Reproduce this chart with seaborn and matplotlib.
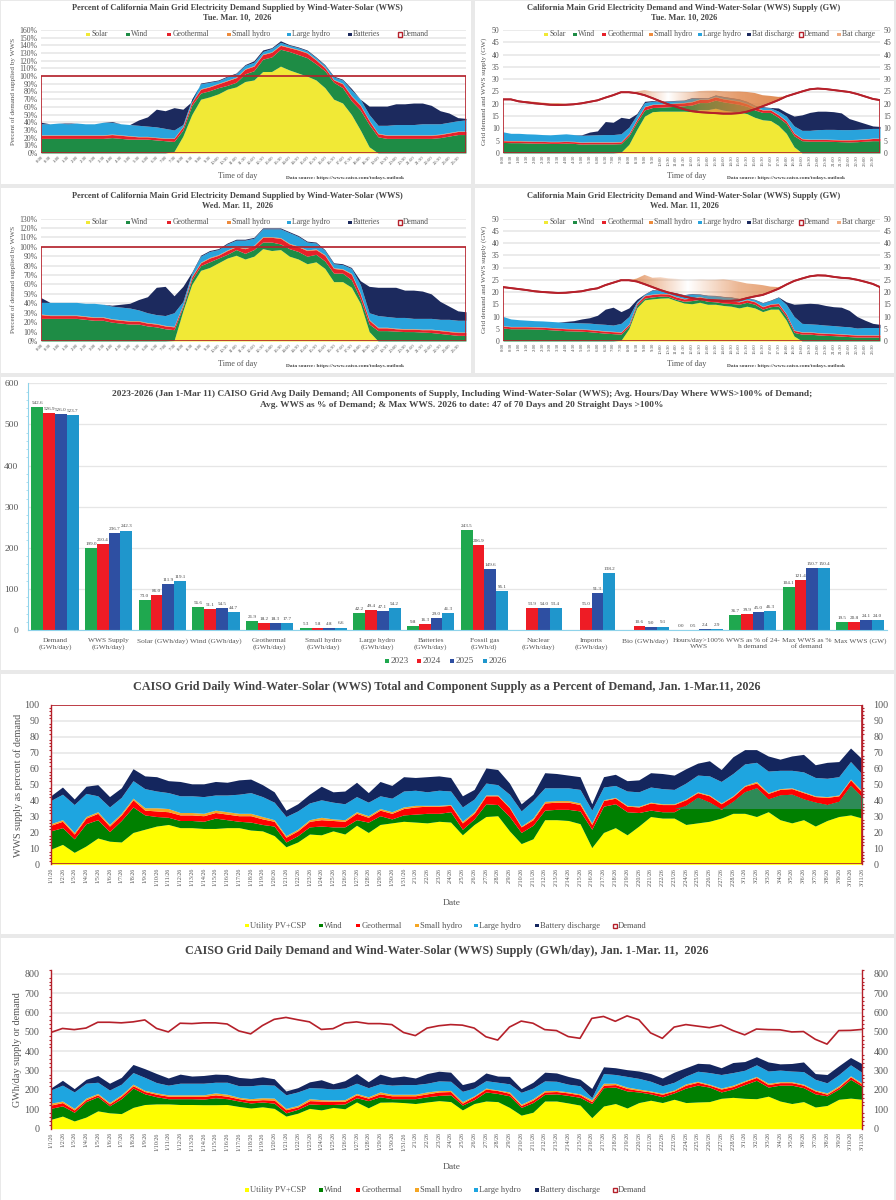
# CAISO grid charts for Mar 10-11 2026 and the 2023-2026 summary

import numpy as np
import matplotlib
matplotlib.use("Agg")
import matplotlib.pyplot as plt
from matplotlib.patches import Rectangle
from matplotlib.path import Path
from matplotlib.ticker import MultipleLocator
from matplotlib.colors import to_rgb
import pandas as pd
import seaborn as sns

sns.set_style("whitegrid")
plt.rcParams['font.family'] = ['Liberation Serif', 'DejaVu Serif']

W, H = 896, 1200

# half hour labels for the daily profile charts
time_labels = [f"{h}:{m:02d}" for h in range(24) for m in (0, 30)]

# Tue Mar 10, percent of demand (tops of the stacked layers)
a_solar = [0,0,0,0,0,0,0,0,0,0,0,0,
           0,0,0,2,22,50,70,73,77,83,86,93,
           95,106,106,113,108,104,100,95,85,70,65,50,
           30,8,0,0,0,0,0,0,0,0,0,0,0]
a_wind = [19,19,19,19,19,19,19,19,20,19,18,18,
          18,17,16,15,30,62,78,81,85,88,92,103,
          107,122,125,135,132,128,124,116,107,92,85,68,
          56,37,21,19,19,19,19,19,19,20,22,24,24]
a_geo = [23,23,23,23,23,23,23,23,24,23,22,21,
         21,20,19,19,34,66,83,86,90,94,98,109,
         113,128,131,140,137,134,130,121,111,95,90,74,
         62,42,25,23,23,23,23,23,23,24,26,28,28]
a_small = [.6,.6,.6,.6,.6,.6,.6,.6,.6,.6,.6,.6,
           .6,.6,.6,.6,.6,.7,.7,.7,.7,.7,.7,.7,
           .7,.7,.7,.7,.7,.7,.7,.7,.7,.7,.7,.7,
           .7,.7,.7,.6,.6,.6,.6,.6,.6,.6,.6,.6,.6]
a_large = [38,38,39,38,39,38,38,40,40,38,37,36,
           35,34,32,30,37,70,90,92,94,99,103,114,
           118,132,136,144,140,137,133,124,114,99,95,82,
           70,50,36,36,37,37,37,38,38,38,40,42,43]
a_total = [40,38,39,39,39,38,38,40,41,38,37,43,
           47,57,55,59,57,67,91,93,95,100,104,115,
           120,134,137,146,141,138,134,125,115,100,96,84,
           70,61,61,61,64,64,65,65,62,55,52,46,45]
a_demand = [100,100,100,100,100,100,100,100,100,100,100,100,
            100,100,100,100,100,100,100,100,100,100,100,100,
            100,100,100,100,100,100,100,100,100,100,100,100,
            100,100,100,100,100,100,100,100,100,100,100,100,100]

# Tue Mar 10, GW
b_solar = [0,0,0,0,0,0,0,0,0,0,0,0,
           0,0,0,.3,3.5,9.5,15,16.8,17,17,17,17,
           16.8,17.6,17.6,18.2,17.4,17,16.6,16,14.5,13.5,13.2,11.2,
           8,2.5,0,0,0,0,0,0,0,0,0,0,0]
b_wind = [4.3,4.2,4.2,4.1,4,4,3.9,3.9,4,3.9,3.6,3.7,
          3.7,3.7,3.7,3.8,7,12.5,17.5,18.5,18.6,18.8,19,19.2,
          19.5,20.5,20.5,21.5,20.8,20.3,19.8,19,17.5,16.5,16.5,14.5,
          12,7,5,4.8,4.8,4.8,4.7,4.6,4.5,4.6,4.8,5,5]
b_geo = [5,4.9,4.9,4.8,4.7,4.7,4.6,4.6,4.7,4.6,4.3,4.4,
         4.4,4.4,4.4,4.5,7.8,13.5,18.8,19.7,19.8,20,20.2,20.4,
         20.8,21.8,21.8,22.8,22,21.5,21,20,18.5,17.5,17.5,15.5,
         13,8,5.8,5.5,5.5,5.5,5.4,5.3,5.3,5.4,5.6,5.9,5.9]
b_small = [.15,.15,.15,.15,.15,.15,.15,.15,.15,.15,.15,.15,
           .15,.15,.15,.15,.15,.15,.15,.15,.15,.15,.15,.15,
           .15,.15,.15,.15,.15,.15,.15,.15,.15,.15,.15,.15,
           .15,.15,.15,.15,.15,.15,.15,.15,.15,.15,.15,.15,.15]
b_large = [8.6,8,8,7.8,7.7,7.5,7.4,7.6,7.8,7.5,7.2,7.3,
           7.4,7.5,7.5,7.8,10.5,15.5,20.5,21,20.8,21,21.2,21.3,
           22.3,22.3,22.2,23.4,22.8,22.3,21.8,20.8,19.2,18.5,18.3,17,
           15,11,9.2,9.2,9.5,9.6,9.6,9.5,9.5,9.6,9.8,10,10]
b_total = [8.6,8,8,7.8,7.7,7.5,7.4,7.6,7.8,7.5,7.4,8.5,
           9,12.8,12.5,14.5,14,16,21,21.3,21,21.2,21.4,21.5,
           22.5,22.5,22.4,23.6,23,22.5,22,21,19.4,18.8,18.5,18.3,
           16.5,15,15.5,16.5,17,17,16.8,16.3,14,13,12,11,10.8]
b_demand = [21.8,21.8,21,20.6,20.2,19.9,19.6,19.5,19.6,19.8,20.2,20.8,
            21.4,22.5,23.5,24.7,24.7,24.3,23.5,22.3,21,19.8,18.8,17.8,
            17,16.6,16.4,16.2,16,16,16.2,16.8,17.8,19,20.2,21.5,
            23,24,25,25.9,26.2,26,25.6,25.2,24.8,24,23,22,21.5]
b_charge = [21.8,21.8,21.2,21.1,20.8,20.5,20.2,20.3,20,19.9,20.2,20.8,
            21.4,22.5,23.5,24.7,24.7,25,25.6,25,25,25,24.8,24.8,
            24.8,25.2,25.3,25.3,25.1,25,25,24.8,24.4,23.5,23.2,22.8,
            23,24,25,25.9,26.2,26,25.6,25.2,24.8,24,23,22,21.5]

# Wed Mar 11, percent of demand
c_solar = [0,0,0,0,0,0,0,0,0,0,0,0,
           0,0,0,.5,32,60,75,78,83,88,91,87,
           90,98,96,97,90,87,82,84,77,63,63,57,
           40,10,0,0,0,0,0,0,0,0,0,0,0]
c_wind = [24,24,24,24,24,23,22,22,20,19,18,18,
          16,15,13,12,36,65,80,84,88,92,97,93,
          97,105,105,103,98,95,90,92,85,72,72,65,
          45,18,11,11,10.5,10,10,9.5,9,8,7,6,6]
c_geo = [28,27,27,27,27,26,25,25,23,22,21,21,
         19,18,16,15,38,68,83,88,91,96,100,98,
         101,110,110,109,103,100,96,97,91,77,76,71,
         50,22,14,14,13,12.5,12.5,12,12,11,10,9,9]
c_small = [.6,.6,.6,.6,.6,.6,.6,.6,.6,.6,.6,.6,
           .6,.6,.6,.6,.6,.7,.7,.7,.7,.7,.7,.7,
           .7,.7,.7,.7,.7,.7,.7,.7,.7,.7,.7,.7,
           .7,.7,.6,.6,.6,.6,.6,.6,.6,.6,.6,.6,.6]
c_large = [41,41,41,41,41,40,40,39,37,36,35,33,
           30,28,27,30,42,72,90,95,97,103,107,107,
           109,119,119,119,115,111,105,104,96,82,81,77,
           60,30,27,26,25,25,24,24,24,23,23,22,22]
c_total = [46,41,41,41,41,40,40,39,38,39,40,44,
           47,57,58,48,58,73,91,96,98,104,108,108,
           110,120,120,120,116,112,106,105,97,83,82,78,
           64,58,57,57,57,54,54,53,50,42,37,32,31]
c_demand = a_demand

# Wed Mar 11, GW
d_solar = [0,0,0,0,0,0,0,0,0,0,0,0,
           0,0,0,.3,5,13.5,16.8,17.2,17.5,17.6,16.5,15.5,
           15.2,15.8,15,15,14.5,14.2,13.5,14.2,13.5,12,13,13,
           8.5,2,0,0,0,0,0,0,0,0,0,0,0]
d_wind = [5.3,5,5,5,4.9,4.8,4.6,4.4,4.2,4.1,4,3.8,
          3.5,3.2,3,2.8,6,14.5,17.5,18,18.3,18.2,17,16.2,
          16.5,17,16.2,16,15.5,15.3,15,15.8,15,13,14,14.3,
          10,3.5,2.8,2.8,2.5,2.3,2.2,2,1.8,1.6,1.6,1.6,1.6]
d_geo = [6.1,5.8,5.8,5.8,5.7,5.6,5.4,5.2,5,4.9,4.8,4.6,
         4.3,4,3.8,3.6,6.8,15.3,18.5,19,19.3,19.2,18,17.2,
         17.5,18,17.2,17,16.5,16.3,16,16.8,16,14,15,15.3,
         11,4.3,3.6,3.6,3.3,3.1,3,2.8,2.6,2.4,2.4,2.4,2.4]
d_small = b_small
d_large = [10,9,8.7,8.5,8.3,8.2,8,7.8,7.6,7.5,7.4,7.3,
           7,6.8,6.5,7.2,10,16,19,20.8,20.6,20,19.5,18.7,
           19.2,19,18.5,18.4,18,17.8,17.2,17.5,16.8,15.5,16.5,17.8,
           15,10,7.2,7,6.8,6.5,6.3,6,5.8,5.3,5.5,5.5,5.5]
d_total = [10,9,8.7,8.5,8.3,8.2,8,7.8,8,8.3,9,9.5,
           10.5,13,13.8,12,13.5,17,19.2,21,20.8,20.2,19.7,18.9,
           19.4,19.2,18.7,18.6,18.2,18,17.4,17.7,17,15.7,16.7,18,
           16,15,15.2,15.4,15.2,14.5,14,13.8,12.5,10,8.5,7.2,6.8]
d_demand = [22,21.6,21.2,20.8,20.3,20,19.8,19.6,19.7,20,20.3,21,
            21.5,22.8,23.8,24.8,24.8,24.3,23.2,22,20.8,19.8,19,18.2,
            17.5,17,16.8,16.6,16.4,16.4,16.6,17.5,18.2,18.8,20,21.3,
            23,24.5,25.5,26.4,26.8,26.7,26.2,25.8,25.6,25,24.2,23.3,22]
d_charge = [22,21.6,21.2,20.8,20.6,20.4,20,19.6,19.7,20,20.3,21,
            21.5,22.8,23.8,24.8,24.8,25.5,27,25.8,26,25.6,25.4,25,
            25,25.2,25,25,25.2,24.8,24.2,23.5,23.2,22.8,22.2,22,
            23,24.5,25.5,26.4,26.8,26.7,26.2,25.8,25.6,25,24.2,23.3,22]

# Summary bars
bar_categories = ["Demand\n(GWh/day)", "WWS Supply\n(GWh/day)", "Solar (GWh/day)", "Wind (GWh/day)",
                  "Geothermal\n(GWh/day)", "Small hydro\n(GWh/day)", "Large hydro\n(GWh/day)",
                  "Batteries\n(GWh/day)", "Fossil gas\n(GWh/d)", "Nuclear\n(GWh/day)", "Imports\n(GWh/day)",
                  "Bio (GWh/day)", "Hours/day>100%\nWWS", "WWS as % of 24-\nh demand",
                  "Max WWS as %\nof demand", "Max WWS (GW)"]
bar_years = ["2023", "2024", "2025", "2026"]
vals_2023 = [542.6, 199.0, 73.0, 56.6, 21.9, 5.3, 42.2, 9.8, 243.5, np.nan, np.nan, np.nan, 0.0, 36.7, 104.1, 19.5]
vals_2024 = [526.9, 210.4, 86.0, 51.1, 18.2, 5.8, 49.4, 16.3, 206.9, 53.9, 55.0, 10.6, 0.5, 39.9, 121.4, 20.8]
vals_2025 = [526.0, 236.7, 111.9, 54.5, 18.3, 4.8, 47.1, 29.0, 149.6, 54.0, 91.3, 9.0, 2.4, 45.0, 150.7, 24.1]
vals_2026 = [523.7, 242.3, 119.1, 44.7, 17.7, 6.6, 54.2, 41.3, 96.1, 53.4, 138.2, 9.1, 2.9, 46.3, 150.4, 24.0]
year_colors = ["#1fa84f", "#ee1c25", "#2e4fa2", "#1f96cc"]

# Daily dates Jan 1 - Mar 11
date_labels = [f"{d.month}/{d.day}/26" for d in pd.date_range("2026-01-01", "2026-03-11")]

# Daily percent of demand (tops of the stacked layers)
e_solar = [9.5,12.5,7.5,11.5,16.5,14.5,14,20,22,24,
           25,23,23,22.5,22.5,23,23,21.5,21,18,
           11,14,19,18.5,21,19,24.5,20,25,26,
           27,26.5,26,27,26.5,18.5,25,30,30.5,21,
           13,16,28,28,27.5,25.5,10.5,20,23,18.5,
           24,30,29,29,25,26,27,29,32,32,
           30,33,28,26,28,24,27.5,30,31,29]
e_wind = [21,23,16,25.5,28,20.5,27.5,36,31,30,
          29.5,27.5,27.5,27,29,28,27,26.5,25,24,
          14,18,23.5,24,23.5,23.5,28,26.5,30.5,28.5,
          31,31.5,32,32,33,22,28.5,38,37.5,30,
          20,24.5,34,34.5,34.5,33.5,22,36.5,38,33,
          32.5,34,33,33,37,42,39,34.5,39.5,45.5,
          48,41,43.5,44,41,39,37.5,39.5,49.5,42]
e_geo = [24.5,27,19,29,32,24,31,40.5,34,33.5,
         33,31,31,30.5,32.5,31.5,30.5,30.5,28.5,27,
         17,21,27,28,27.5,27,32,29.5,34,32,
         35,36,36.5,36.5,37,26,32,43,43,35.5,
         23.5,28,38.5,39,39,37.5,25,40,41.5,36.5,
         36,38.5,37.5,37.5,40.5,45,43,38,42.5,49,
         51,44.5,47,47.5,45,42.5,42,43,53,45]
e_small = [25.5,28,20,30,33,25,32,41.5,35.5,35.5,
           35,32.5,32.5,32,34,33,32,32,30,28,
           18,22,28,29.5,28.5,28,33,30.5,35,33,
           36,37,37,37,37.5,27,33,43.5,43.5,36,
           24,29,39.5,40,40,38.5,26,40.5,42,37,
           36.5,39,38,38,41,45.5,43.5,38.5,43,49.5,
           52,45,47.5,48,45.5,43,42.5,43.5,53.5,46]
e_large = [40,44,37.5,44.5,43,36,42,52.5,47.5,46,
           45,43,43,42.5,43.5,43.5,44,45,42.5,39,
           30,33.5,38.5,40.5,39,38,42.5,39,43,41.5,
           46,46.5,45.5,46.5,46,36,41,51,50,44,
           33.5,40,48,48,48,47,34,48.5,49.5,46,
           45.5,48.5,47.5,47,51,56,55.5,52,57,63,
           64,58.5,59,59,58,54.5,54,55,64.5,56.5]
e_total = [43,48.5,41,49,50,42.5,48,60,55.5,55,
           52.5,52,50.5,50.5,52,51.5,53,53.5,50,45.5,
           34,38,44,49,45.5,46,51.5,45,52,49.5,
           55,54.5,55,55.5,54.5,43,47,60.5,59.5,51,
           38,44,57.5,57,56,55,38,55,56.5,52.5,
           53,57.5,57,56,60,63.5,65,59.5,67.5,72,
           72,68,66,68,69,62.5,64,64.5,73,66]
e_demand = [100,100,100,100,100,100,100,100,100,100,
            100,100,100,100,100,100,100,100,100,100,
            100,100,100,100,100,100,100,100,100,100,
            100,100,100,100,100,100,100,100,100,100,
            100,100,100,100,100,100,100,100,100,100,
            100,100,100,100,100,100,100,100,100,100,
            100,100,100,100,100,100,100,100,100,100]

# Daily GWh/day
f_solar = [48,65,40,60,92,82,78,110,125,128,
           128,125,125,124,124,125,115,107,113,105,
           65,80,105,97,110,103,138,108,137,138,
           135,130,138,145,140,97,130,143,140,110,
           70,85,143,143,133,122,57,117,130,107,
           135,147,135,152,135,138,140,157,162,157,
           155,168,143,130,140,112,120,152,158,152]
f_wind = [105,118,85,140,165,118,155,210,180,165,
          155,155,155,153,160,155,143,133,138,132,
          82,100,128,125,125,128,160,145,165,155,
          155,155,165,172,175,122,150,190,182,170,
          110,135,178,180,172,162,130,212,215,195,
          190,180,165,185,210,225,215,190,205,228,
          250,215,225,225,212,180,170,205,255,218]
f_geo = [122,135,97,150,175,128,168,222,192,178,
         168,168,168,167,175,168,155,146,150,148,
         98,112,145,143,142,142,175,158,180,170,
         170,170,180,190,192,132,165,205,197,183,
         120,148,190,192,185,175,140,225,228,208,
         198,190,178,195,225,240,225,205,218,243,
         265,228,238,238,225,195,178,215,268,228]
f_small = [132,143,105,158,182,135,175,230,198,185,
           175,175,175,175,185,178,162,155,160,158,
           105,120,155,150,148,150,182,165,190,178,
           178,178,190,197,198,140,170,210,200,190,
           127,155,197,198,190,180,150,235,235,215,
           205,195,183,200,232,245,230,210,225,248,
           270,235,243,243,230,200,185,222,273,235]
f_large = [200,225,190,235,240,200,230,290,265,238,
           225,235,235,235,240,240,222,222,228,225,
           175,190,212,210,205,210,235,212,232,225,
           228,228,235,247,245,193,210,248,240,232,
           188,210,247,245,230,222,160,285,280,270,
           260,245,222,240,272,297,290,280,290,302,
           330,298,303,298,295,255,237,280,330,290]
f_total = [210,250,207,255,275,235,265,332,310,285,
           262,282,272,275,282,280,265,260,268,258,
           195,212,242,253,232,248,285,243,282,265,
           272,262,285,297,292,228,243,288,272,270,
           207,240,292,288,270,256,208,320,315,305,
           298,285,262,292,315,338,335,315,342,347,
           372,345,335,337,345,285,280,325,368,335]
f_demand = [497,518,512,520,550,550,547,552,562,518,
            500,545,543,547,547,541,505,490,533,565,
            575,563,552,513,517,546,552,543,543,538,
            497,481,520,532,538,535,520,475,458,525,
            556,545,512,507,476,467,570,580,555,583,
            563,495,467,525,538,530,522,535,507,485,
            515,512,511,500,502,462,437,507,508,513]

# colours
day_colors = ["#f1e936", "#1e8c45", "#e6212a", "#ed8b3d", "#29a3dc", "#1c2a5e"]
daily_colors = ["#ffff00", "#008000", "#ff0000", "#f5a623", "#1ea5e0", "#14265e"]
red_line = "#b5202a"
txt = "#555555"
title_col = "#444444"
grid_col = "#e6e6e6"

x_day = np.append(np.arange(48), 47.92)
x_date = np.arange(len(date_labels))


def add_ax(left, top, right, bottom):
    return fig.add_axes([left / W, 1 - bottom / H, (right - left) / W, (bottom - top) / H])


def ftext(x, y, s, **kw):
    kw.setdefault("ha", "center")
    kw.setdefault("va", "center")
    kw.setdefault("color", txt)
    fig.text(x / W, 1 - y / H, s, **kw)


def panel(left, top, right, bottom):
    fig.add_artist(Rectangle((left / W, 1 - bottom / H), (right - left) / W, (bottom - top) / H,
                             transform=fig.transFigure, fc="white", ec="none", zorder=-5))


def legend_row(names, colors, xs, y, size=5.6, box=3.5):
    for name, col, x in zip(names, colors, xs):
        if name == "Demand":
            fig.add_artist(Rectangle(((x - 2.2) / W, 1 - (y + 2.2) / H), 4.4 / W, 4.4 / H, transform=fig.transFigure,
                                     fc="white", ec=red_line, lw=1.0))
        else:
            fig.add_artist(Rectangle(((x - box / 2) / W, 1 - (y + box / 2) / H), box / W, box / H,
                                     transform=fig.transFigure, fc=col, ec="none"))
        ftext(x + 3.2, y, name, ha="left", size=size)


def stack(ax, x, levels, colors):
    lower = np.zeros(len(x))
    for top, col in zip(levels, colors):
        top = np.asarray(top, dtype=float)
        ax.fill_between(x, lower, top, color=col, lw=0, zorder=2)
        lower = top


def base_style(ax, ymax, ystep):
    ax.set_ylim(0, ymax)
    ax.yaxis.set_major_locator(MultipleLocator(ystep))
    ax.grid(False, axis="x")
    ax.grid(True, axis="y", color=grid_col, lw=1.1)
    ax.set_axisbelow(True)
    ax.spines[["left", "bottom", "top", "right"]].set_visible(False)
    ax.set_xlabel("")
    ax.set_ylabel("")


def charge_fill(ax, x, demand, charge, stops, alphas):
    demand = np.asarray(demand, dtype=float)
    charge = np.asarray(charge, dtype=float)
    poly = ax.fill_between(x, demand, charge, where=charge > demand, interpolate=True, color="none", lw=0)
    path = Path.make_compound_path(*poly.get_paths())
    xs = np.linspace(x[0], x[-1], 400)
    img = np.zeros((1, 400, 4))
    img[..., :3] = to_rgb("#dd7c3c")
    img[..., 3] = np.interp(xs, stops, alphas)
    im = ax.imshow(img, extent=(x[0], x[-1], 0, 50), aspect="auto", zorder=3, interpolation="bilinear")
    im.set_clip_path(path, transform=ax.transData)


def legend_colors(names):
    lookup = {"Solar": day_colors[0], "Wind": day_colors[1], "Geothermal": day_colors[2], "Small hydro": day_colors[3],
              "Large hydro": day_colors[4], "Batteries": day_colors[5], "Bat discharge": day_colors[5],
              "Demand": red_line, "Bat charge": "#eeaa80"}
    return [lookup[n] for n in names]


def day_chart(box, levels, demand, ymax, ystep, title, subtitle, names, legend_xs, ylab, ylab_x, both_sides,
              rot, src_x, lab_x, shift, charge=None, stops=None, alphas=None):
    ax = add_ax(*box)
    stack(ax, x_day, levels, day_colors)
    if charge is not None:
        charge_fill(ax, x_day, demand, charge, stops, alphas)
    ax.fill_between(x_day, 0, demand, facecolor="none", edgecolor=red_line, lw=1.2, zorder=4)
    if both_sides:
        sns.lineplot(x=x_day, y=demand, ax=ax, color=red_line, lw=1.4, errorbar=None, zorder=5)
    base_style(ax, ymax, ystep)
    ax.set_xlim(0, 47.92)
    ax.set_xticks(np.arange(48))
    if rot == 90:
        ax.set_xticklabels(time_labels, rotation=90, size=3.4, color=txt)
    else:
        ax.set_xticklabels(time_labels, rotation=45, ha="right", rotation_mode="anchor", size=3.4, color=txt)
    ax.tick_params(axis="x", length=0, pad=1.5)
    ax.tick_params(axis="y", length=0, pad=2.5, labelsize=5.6, labelcolor=txt, labelright=both_sides)
    if not both_sides:
        ax.yaxis.set_major_formatter(lambda v, p: f"{v:.0f}%")
    ftext(lab_x[0], 8.3 + shift, title, weight="bold", size=6.05, color=title_col)
    ftext(lab_x[0], 17.8 + shift, subtitle, weight="bold", size=6.05, color=title_col)
    ftext(ylab_x, (box[1] + box[3]) / 2 - 0, ylab, rotation=90, size=5.15)
    ftext(lab_x[1], 176 + shift, "Time of day", size=5.9)
    ftext(src_x, 178 + shift, "Data source: https://www.caiso.com/todays-outlook", size=3.9, weight="bold", color="#444444")
    legend_row(names, legend_colors(names), legend_xs, 34.5 + shift)
    return ax


def cum_small(geo, small):
    return np.asarray(geo, dtype=float) + np.asarray(small, dtype=float)


fig = plt.figure(figsize=(W / 100, H / 100), dpi=100, facecolor="#e9e9e9")

# white cards behind each chart
panel(1, 1, 471, 184)
panel(475, 1, 894, 184)
panel(1, 188, 471, 373)
panel(475, 188, 894, 373)
panel(1, 377, 894, 670)
panel(1, 674, 894, 934)
panel(1, 938, 894, 1200)

pct_names = ["Solar", "Wind", "Geothermal", "Small hydro", "Large hydro", "Batteries", "Demand"]
pct_xs = [88, 128, 169, 229, 289, 350, 400]
gw_names = ["Solar", "Wind", "Geothermal", "Small hydro", "Large hydro", "Bat discharge", "Demand", "Bat charge"]
gw_xs = [546, 575, 604, 651, 700, 749, 801, 839]

pct_title = "Percent of California Main Grid Electricity Demand Supplied by Wind-Water-Solar (WWS)"
gw_title = "California Main Grid Electricity Demand and Wind-Water-Solar (WWS) Supply (GW)"

day_chart((41, 30, 466, 153), [a_solar, a_wind, a_geo, cum_small(a_geo, a_small), a_large, a_total], a_demand,
          160, 10, pct_title, "Tue. Mar. 10,  2026", pct_names, pct_xs,
          "Percent of demand supplied by WWS", 13, False, 45, 345, (237, 238), 0)
day_chart((503, 30, 880, 153), [b_solar, b_wind, b_geo, cum_small(b_geo, b_small), b_large, b_total], b_demand,
          50, 5, gw_title, "Tue. Mar. 10, 2026", gw_names, gw_xs,
          "Grid demand and WWS supply (GW)", 484, True, 90, 786, (684, 687), 0,
          charge=b_charge, stops=[0, 17, 21, 25, 30, 36, 48], alphas=[.8, .55, 0, .5, .75, .9, .9])
day_chart((41, 218.5, 466, 341), [c_solar, c_wind, c_geo, cum_small(c_geo, c_small), c_large, c_total], c_demand,
          130, 10, pct_title, "Wed. Mar. 11,  2026", pct_names, pct_xs,
          "Percent of demand supplied by WWS", 13, False, 45, 345, (237, 238), 188)
day_chart((503, 218.5, 880, 341), [d_solar, d_wind, d_geo, cum_small(d_geo, d_small), d_large, d_total], d_demand,
          50, 5, gw_title, "Wed. Mar. 11, 2026", gw_names, gw_xs,
          "Grid demand and WWS supply (GW)", 484, True, 90, 786, (684, 687), 188,
          charge=d_charge, stops=[0, 17, 23.5, 30, 36, 48], alphas=[.8, .7, 0, .55, .75, .75])

# summary bar chart
ax_bar = add_ax(28.2, 383.3, 886.8, 630.3)
bars = pd.DataFrame({"category": bar_categories * 4,
                     "year": sum([[y] * len(bar_categories) for y in bar_years], []),
                     "value": vals_2023 + vals_2024 + vals_2025 + vals_2026})
sns.barplot(data=bars, x="category", y="value", hue="year", palette=year_colors, width=0.88, gap=0, saturation=1,
            errorbar=None, legend=False, linewidth=0, edgecolor="none", ax=ax_bar)
for bc in ax_bar.containers:
    ax_bar.bar_label(bc, fmt="%.1f", size=3.7, padding=1.5, color="#444444")
ax_bar.set_xlim(-0.5, 15.5)
ax_bar.set_ylim(0, 600)
ax_bar.yaxis.set_major_locator(MultipleLocator(100))
ax_bar.yaxis.set_minor_locator(MultipleLocator(20))
ax_bar.grid(False, axis="x")
ax_bar.grid(True, axis="y", which="major", color=grid_col, lw=0.9)
ax_bar.set_axisbelow(True)
ax_bar.set_xlabel("")
ax_bar.set_ylabel("")
ax_bar.spines[["top", "right"]].set_visible(False)
ax_bar.spines[["left", "bottom"]].set_color("#8fd3ea")
ax_bar.spines[["left", "bottom"]].set_linewidth(0.8)
ax_bar.tick_params(axis="x", length=0, pad=5.5, labelsize=5.3, labelcolor=txt)
ax_bar.tick_params(axis="y", which="major", length=0, pad=7, labelsize=6.8, labelcolor=txt)
ax_bar.tick_params(axis="y", which="minor", left=True, length=1.5, width=0.5, color="#8fd3ea")
ftext(462, 394, "2023-2026 (Jan 1-Mar 11) CAISO Grid Avg Daily Demand; All Components of Supply, Including Wind-Water-Solar (WWS); "
      "Avg. Hours/Day Where WWS>100% of Demand;", weight="bold", size=6.72, color=title_col)
ftext(462, 405, "Avg. WWS as % of Demand; & Max WWS. 2026 to date: 47 of 70 Days and 20 Straight Days >100%",
      weight="bold", size=6.72, color=title_col)
legend_row(bar_years, year_colors, [387, 419, 452, 485], 661, size=6.6, box=3.8)

# daily charts
daily_names = ["Utility PV+CSP", "Wind", "Geothermal", "Small hydro", "Large hydro", "Battery discharge", "Demand"]
daily_xs = [247, 321, 358, 417, 476, 537, 615]


def date_axis(ax, ymax, ystep, minor):
    base_style(ax, ymax, ystep)
    ax.set_xlim(0, len(date_labels) - 1)
    ax.set_xticks(x_date)
    ax.set_xticklabels(date_labels, rotation=90, size=4.3, color=txt)
    ax.tick_params(axis="x", length=0, pad=2.5)
    ax.tick_params(axis="y", which="major", length=0, pad=8, labelsize=7.2, labelcolor=txt, labelright=True)
    ax.yaxis.set_minor_locator(MultipleLocator(minor))
    ax.tick_params(axis="y", which="minor", left=True, right=True, length=1.5, width=0.8, color=red_line)
    ax.spines[["left", "right"]].set_visible(True)
    ax.spines[["left", "right"]].set_color(red_line)
    ax.spines[["left", "right"]].set_linewidth(1.0)


ax_e = add_ax(50.7, 705, 862.3, 864.3)
stack(ax_e, x_date, [e_solar, e_wind, e_geo, e_small, e_large, e_total], daily_colors)
# wind above the 35% line is a duller green from late February on
late = x_date >= 53
ax_e.fill_between(x_date, np.maximum(e_solar, 35), np.maximum(e_wind, 35), where=late, color="#2e8b57", lw=0, zorder=3)
ax_e.fill_between(x_date, 0, e_demand, facecolor="none", edgecolor=red_line, lw=1.2, zorder=4)
date_axis(ax_e, 100, 10, 2)
ftext(447, 687, "CAISO Grid Daily Wind-Water-Solar (WWS) Total and Component Supply as a Percent of Demand, Jan. 1-Mar.11, 2026",
      weight="bold", size=8.75, color=title_col)
ftext(18, 785, "WWS supply as percent of demand", rotation=90, size=7.3)
ftext(452, 903, "Date", size=6.8)
legend_row(daily_names, daily_colors[:6] + [red_line], daily_xs, 925.7, size=6.1)

ax_f = add_ax(50.7, 970, 862.3, 1128.7)
stack(ax_f, x_date, [f_solar, f_wind, f_geo, f_small, f_large, f_total], daily_colors)
sns.lineplot(x=x_date, y=f_demand, ax=ax_f, color=red_line, lw=1.2, errorbar=None, zorder=4)
date_axis(ax_f, 820, 100, 20)
ftext(447, 951, "CAISO Grid Daily Demand and Wind-Water-Solar (WWS) Supply (GWh/day), Jan. 1-Mar. 11,  2026",
      weight="bold", size=8.75, color=title_col)
ftext(18, 1050, "GWh/day supply or demand", rotation=90, size=7.3)
ftext(452, 1167, "Date", size=6.8)
legend_row(daily_names, daily_colors[:6] + [red_line], daily_xs, 1190, size=6.1)

fig.savefig("out.png", dpi=100, facecolor=fig.get_facecolor())
